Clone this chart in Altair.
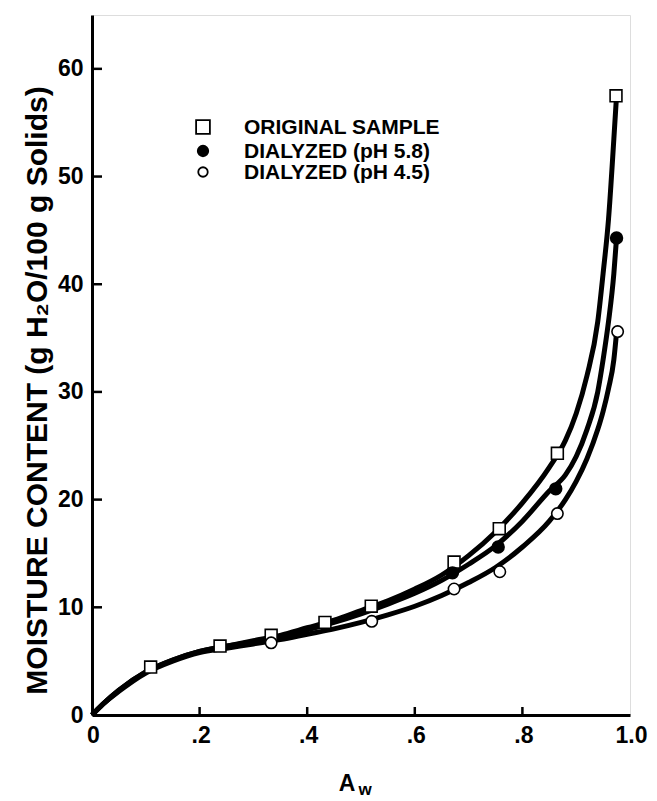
import altair as alt
import pandas as pd

# ---- data ----
curve_aw = [0, 0.02, 0.05, 0.1, 0.15, 0.2, 0.25, 0.3, 0.35, 0.4, 0.45, 0.5, 0.55, 0.6,
            0.65, 0.7, 0.75, 0.8, 0.85, 0.88, 0.9, 0.92, 0.94, 0.95, 0.96, 0.97, 0.975]
curve_original = [0, 1.0, 2.3, 4.0, 5.1, 5.9, 6.4, 6.9, 7.4, 8.1, 8.8, 9.7, 10.6, 11.7,
                  13.0, 14.8, 17.0, 19.7, 23.0, 25.5, 28.0, 31.5, 36.5, 41.0, 46.0, 53.5, 57.5]
curve_ph58 = [0, 1.0, 2.3, 4.0, 5.1, 5.9, 6.4, 6.8, 7.3, 7.9, 8.6, 9.4, 10.3, 11.3,
              12.5, 14.0, 15.7, 18.0, 20.8, 22.3, 24.0, 26.5, 30.0, 33.0, 36.5, 41.0, 44.3]
curve_ph45 = [0, 1.0, 2.2, 3.9, 5.0, 5.8, 6.2, 6.6, 7.0, 7.5, 8.0, 8.6, 9.3, 10.1,
              11.1, 12.3, 13.7, 15.6, 18.0, 20.0, 21.7, 23.8, 26.5, 28.2, 30.3, 33.0, 35.5]

orig_x = [0.109, 0.238, 0.333, 0.433, 0.519, 0.673, 0.757, 0.865, 0.974]
orig_y = [4.45, 6.4, 7.4, 8.6, 10.1, 14.2, 17.3, 24.3, 57.5]
ph58_x = [0.67, 0.755, 0.862, 0.975]
ph58_y = [13.2, 15.6, 21.0, 44.3]
ph45_x = [0.333, 0.52, 0.673, 0.758, 0.865, 0.977]
ph45_y = [6.7, 8.7, 11.7, 13.3, 18.7, 35.6]

series_names = ["ORIGINAL SAMPLE", "DIALYZED (pH 5.8)", "DIALYZED (pH 4.5)"]
x_ticks = [0.2, 0.4, 0.6, 0.8]
y_ticks = [10, 20, 30, 40, 50, 60]
x_label_values = [0, 0.2, 0.4, 0.6, 0.8, 1.0]
y_label_values = [0, 10, 20, 30, 40, 50, 60]
y_title = "MOISTURE CONTENT (g H\u2082O/100 g Solids)"
x_title_main = "A"
x_title_sub = "w"

# ---- layout ----
W, H = 538, 700
FONT = "Liberation Sans"
xs = alt.Scale(domain=[0, 1.0], nice=False, zero=False)
ys = alt.Scale(domain=[0, 65], nice=False, zero=False)

curves = pd.concat([
    pd.DataFrame({"aw": curve_aw, "m": c, "s": n})
    for c, n in zip([curve_original, curve_ph58, curve_ph45], series_names)
])

x_axis = alt.Axis(values=x_label_values, ticks=False, grid=False, domainColor="black",
                  domainWidth=3, labelFont=FONT, labelFontSize=23, labelFontWeight="bold",
                  labelColor="black", labelPadding=9, labelOffset=1, labelFlush=False,
                  title=None,
                  labelExpr="datum.value == 0 ? '0' : datum.value == 1 ? '1.0' : replace(format(datum.value, '.1f'), '0.', '.')")
y_axis = alt.Axis(values=y_label_values, ticks=False, grid=False, domainColor="black",
                  domainWidth=3, labelFont=FONT, labelFontSize=23, labelFontWeight="bold",
                  labelColor="black", labelPadding=9, labelFlush=False, title=y_title,
                  titleFont=FONT, titleFontSize=30, titleFontWeight="bold", titleColor="black",
                  titlePadding=5, titleY=H / 2 + 25)

lines = alt.Chart(curves).mark_line(color="black", strokeWidth=5, interpolate="monotone").encode(
    x=alt.X("aw:Q", scale=xs, axis=x_axis),
    y=alt.Y("m:Q", scale=ys, axis=y_axis),
    detail="s:N",
)

def pts(xv, yv, shape, fill, size):
    return alt.Chart(pd.DataFrame({"aw": xv, "m": yv})).mark_point(
        shape=shape, filled=True, fill=fill, stroke="black", strokeWidth=1.6,
        size=size, opacity=1).encode(
        x=alt.X("aw:Q", scale=xs), y=alt.Y("m:Q", scale=ys))

p_orig = pts(orig_x, orig_y, "square", "white", 140)
p_58 = pts(ph58_x, ph58_y, "circle", "black", 140)
p_45 = pts(ph45_x, ph45_y, "circle", "white", 130)

xt = alt.Chart(pd.DataFrame({"v": x_ticks})).mark_rule(color="black", strokeWidth=2.5).encode(
    x=alt.X("v:Q", scale=xs), y=alt.value(H), y2=alt.value(H - 8))
yt = alt.Chart(pd.DataFrame({"v": y_ticks})).mark_rule(color="black", strokeWidth=2.5).encode(
    y=alt.Y("v:Q", scale=ys), x=alt.value(0), x2=alt.value(10))

# legend (manual)
leg_layers = []
row_y = [112, 136, 157]
shapes = [("square", "white", 190), ("circle", "black", 110), ("circle", "white", 90)]
for name, ry, (shp, fl, sz) in zip(series_names, row_y, shapes):
    d = pd.DataFrame({"t": [name]})
    leg_layers.append(alt.Chart(d).mark_point(shape=shp, filled=True, fill=fl, stroke="black",
                                              strokeWidth=1.8, size=sz, opacity=1).encode(
        x=alt.value(111), y=alt.value(ry)))
    leg_layers.append(alt.Chart(d).mark_text(font=FONT, fontSize=21, fontWeight="bold",
                                             align="left", baseline="middle", color="black").encode(
        x=alt.value(152), y=alt.value(ry + 1), text="t:N"))

xtitle_a = alt.Chart(pd.DataFrame({"t": [x_title_main]})).mark_text(
    font=FONT, fontSize=23, fontWeight="bold", align="center", baseline="alphabetic",
    color="black").encode(x=alt.value(255), y=alt.value(776), text="t:N")
xtitle_w = alt.Chart(pd.DataFrame({"t": [x_title_sub]})).mark_text(
    font=FONT, fontSize=17, fontWeight="bold", align="center", baseline="alphabetic",
    color="black").encode(x=alt.value(273), y=alt.value(780), text="t:N")

chart = alt.layer(lines, xt, yt, p_orig, p_45, p_58, *leg_layers, xtitle_a, xtitle_w).properties(
    width=W, height=H,
    autosize=alt.AutoSizeParams(type="none"),
    padding={"left": 84, "top": 7, "right": 19, "bottom": 84},
).configure_view(stroke="black", strokeWidth=2.5).configure(background="white")

chart.save("out.html", embed_options={"renderer": "svg", "actions": False})
